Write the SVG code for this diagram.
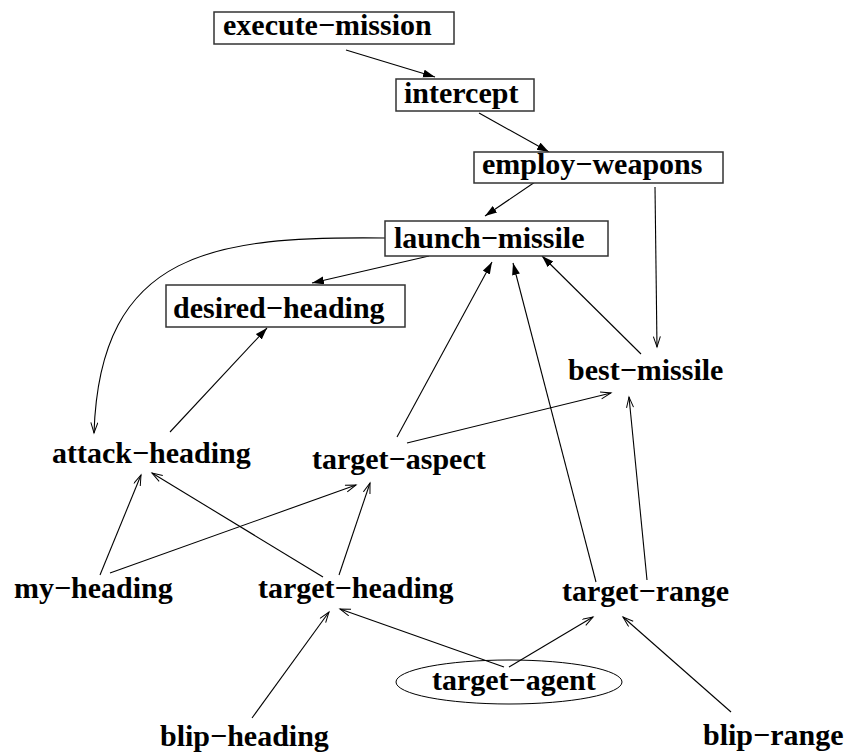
<svg xmlns="http://www.w3.org/2000/svg" width="848" height="754" viewBox="0 0 848 754">
  <style>
    text { font-family: "Liberation Serif", "Times New Roman", serif; font-weight: bold; font-size: 30px; fill: #000; }
    .box { fill: #fff; stroke: #333; stroke-width: 1.5; }
    .oval { fill: none; stroke: #000; stroke-width: 1; }
    .edge { fill: none; stroke: #000; stroke-width: 1.1; }
    .solid { marker-end: url(#head-filled); }
    .open { marker-end: url(#head-open); }
  </style>
  <defs>
    <marker id="head-filled" markerUnits="userSpaceOnUse" markerWidth="14" markerHeight="10" refX="12" refY="4" orient="auto">
      <path d="M0,0 L12,4 L0,8 z" fill="#000"/>
    </marker>
    <marker id="head-open" markerUnits="userSpaceOnUse" markerWidth="14" markerHeight="10" refX="11" refY="4" orient="auto">
      <path d="M0.5,0.5 L11,4 L0.5,7.5" fill="none" stroke="#000" stroke-width="1"/>
    </marker>
  </defs>

  <rect width="848" height="754" fill="#fff"/>

  <g id="connectors">
    <line class="edge solid" x1="346" y1="50" x2="435" y2="77"/>
    <line class="edge solid" x1="479" y1="113" x2="549" y2="152"/>
    <line class="edge solid" x1="535" y1="182" x2="485" y2="216"/>
    <line class="edge open" x1="655" y1="187" x2="657" y2="347"/>
    <line class="edge solid" x1="429" y1="256" x2="312" y2="283"/>
    <path class="edge open" d="M385,238 C215,236 100,250 94,433"/>
    <line class="edge solid" x1="170" y1="432" x2="267" y2="328"/>
    <line class="edge solid" x1="397" y1="437" x2="492" y2="262"/>
    <line class="edge solid" x1="596" y1="582" x2="513" y2="263"/>
    <line class="edge solid" x1="641" y1="354" x2="542" y2="256"/>
    <line class="edge open" x1="407" y1="443" x2="611" y2="393"/>
    <line class="edge open" x1="647" y1="580" x2="629" y2="397"/>
    <line class="edge open" x1="100" y1="575" x2="141" y2="475"/>
    <line class="edge open" x1="110" y1="573" x2="356" y2="485"/>
    <line class="edge open" x1="323" y1="577" x2="152" y2="473"/>
    <line class="edge open" x1="339" y1="575" x2="370" y2="483"/>
    <line class="edge open" x1="252" y1="718" x2="329" y2="612"/>
    <line class="edge open" x1="504" y1="667" x2="340" y2="609"/>
    <line class="edge open" x1="509" y1="667" x2="593" y2="617"/>
    <line class="edge open" x1="731" y1="712" x2="623" y2="617"/>
  </g>

  <g id="execute-mission">
    <rect class="box" x="214" y="12" width="240" height="32"/>
    <text x="223" y="35">execute−mission</text>
  </g>
  <g id="intercept">
    <rect class="box" x="396" y="79" width="138" height="32"/>
    <text x="404" y="103">intercept</text>
  </g>
  <g id="employ-weapons">
    <rect class="box" x="474" y="152" width="249" height="31"/>
    <text x="482" y="174">employ−weapons</text>
  </g>
  <g id="launch-missile">
    <rect class="box" x="385" y="221" width="223" height="35"/>
    <text x="394" y="248">launch−missile</text>
  </g>
  <g id="desired-heading">
    <rect class="box" x="166" y="285" width="239" height="42"/>
    <text x="173" y="318">desired−heading</text>
  </g>
  <g id="best-missile">
    <text x="568" y="380">best−missile</text>
  </g>
  <g id="attack-heading">
    <text x="52" y="463">attack−heading</text>
  </g>
  <g id="target-aspect">
    <text x="312" y="469">target−aspect</text>
  </g>
  <g id="my-heading">
    <text x="14" y="598">my−heading</text>
  </g>
  <g id="target-heading">
    <text x="258" y="598">target−heading</text>
  </g>
  <g id="target-range">
    <text x="562" y="601">target−range</text>
  </g>
  <g id="target-agent">
    <ellipse class="oval" cx="509" cy="682" rx="113" ry="22"/>
    <text x="432" y="690">target−agent</text>
  </g>
  <g id="blip-heading">
    <text x="160" y="746">blip−heading</text>
  </g>
  <g id="blip-range">
    <text x="703" y="745">blip−range</text>
  </g>
</svg>
